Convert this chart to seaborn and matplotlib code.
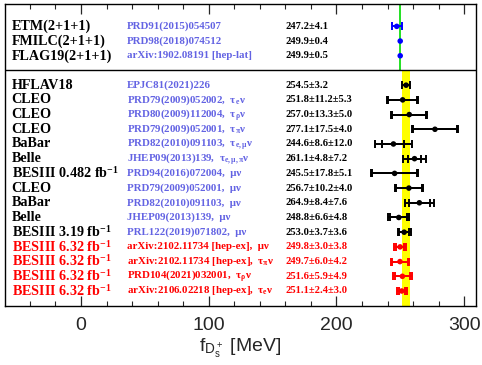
import numpy as np
import pandas as pd
import matplotlib
matplotlib.use("Agg")
import matplotlib.pyplot as plt
import seaborn as sns

# ---------------- data ----------------
FB = r"fb$^{\mathregular{-1}}$"
names = ["ETM(2+1+1)", "FMILC(2+1+1)", "FLAG19(2+1+1)",
         "HFLAV18", "CLEO", "CLEO", "CLEO", "BaBar", "Belle",
         "BESIII 0.482 " + FB, "CLEO", "BaBar", "Belle",
         "BESIII 3.19 " + FB,
         "BESIII 6.32 " + FB, "BESIII 6.32 " + FB,
         "BESIII 6.32 " + FB, "BESIII 6.32 " + FB]
refs = ["PRD91(2015)054507", "PRD98(2018)074512", "arXiv:1902.08191 [hep-lat]",
        "EPJC81(2021)226",
        r"PRD79(2009)052002,  τ$_{\mathregular{e}}$ν",
        r"PRD80(2009)112004,  τ$_{\mathregular{ρ}}$ν",
        r"PRD79(2009)052001,  τ$_{\mathregular{π}}$ν",
        r"PRD82(2010)091103,  τ$_{\mathregular{e,μ}}$ν",
        r"JHEP09(2013)139,  τ$_{\mathregular{e,μ,π}}$ν",
        "PRD94(2016)072004,  μν",
        "PRD79(2009)052001,  μν",
        "PRD82(2010)091103,  μν",
        "JHEP09(2013)139,  μν",
        "PRL122(2019)071802,  μν",
        "arXiv:2102.11734 [hep-ex],  μν",
        r"arXiv:2102.11734 [hep-ex],  τ$_{\mathregular{π}}$ν",
        r"PRD104(2021)032001,  τ$_{\mathregular{ρ}}$ν",
        r"arXiv:2106.02218 [hep-ex],  τ$_{\mathregular{e}}$ν"]
values = [247.2, 249.9, 249.9,
          254.5, 251.8, 257.0, 277.1, 244.6, 261.1, 245.5, 256.7, 264.9, 248.8,
          253.0, 249.8, 249.7, 251.6, 251.1]
stat = [4.1, 0.4, 0.5,
        3.2, 11.2, 13.3, 17.5, 8.6, 4.8, 17.8, 10.2, 8.4, 6.6,
        3.7, 3.0, 6.0, 5.9, 2.4]
syst = [0.0, 0.0, 0.0,
        0.0, 5.3, 5.0, 4.0, 12.0, 7.2, 5.1, 4.0, 7.6, 4.8,
        3.6, 3.8, 4.2, 4.9, 3.0]
rows = [0, 1, 2, 4, 5, 6, 7, 8, 9, 10, 11, 12, 13, 14, 15, 16, 17, 18]
groups = ["lattice"] * 3 + ["exp"] * 11 + ["besiii"] * 4
lattice_avg = 249.9
hflav_avg, hflav_err = 254.5, 3.2

df = pd.DataFrame({"name": names, "ref": refs, "value": values, "stat": stat,
                   "syst": syst, "row": rows, "group": groups})
df["total"] = np.sqrt(df["stat"] ** 2 + df["syst"] ** 2)

point_col = {"lattice": "#0000ff", "exp": "#000000", "besiii": "#ff0000"}
name_col = {"lattice": "#000000", "exp": "#000000", "besiii": "#ff0000"}
ref_col = {"lattice": "#6363e3", "exp": "#6363e3", "besiii": "#ff0000"}
val_col = {"lattice": "#000000", "exp": "#000000", "besiii": "#ff0000"}

# ---------------- style ----------------
sns.set_style("ticks")
plt.rcParams["font.family"] = ["Liberation Serif", "DejaVu Serif"]
plt.rcParams["mathtext.fontset"] = "stix"

fig = plt.figure(figsize=(4.82, 3.65), dpi=100)
ax = fig.add_axes([5 / 482, 1 - 305.7 / 365, 470.7 / 482, 301.4 / 365])

xmin, xmax = -59.5, 309.0
ymin, ymax = -1.5, 19.0

# yellow band (experimental average) and green line (lattice)
ax.fill_betweenx([3, ymax], hflav_avg - hflav_err, hflav_avg + hflav_err,
                 color="#ffff00", lw=0, zorder=1)
ax.plot([lattice_avg, lattice_avg], [ymin, 3], color="#11dd11", lw=1.3, zorder=1)
ax.axhline(3, color="black", lw=1.0, zorder=2)

for g, sub in df.groupby("group"):
    s = sub[sub["total"] > 1]
    ax.errorbar(s["value"], s["row"], xerr=s["total"], fmt="none",
                ecolor=point_col[g], elinewidth=1.4, capsize=3, capthick=1.4, zorder=3)
    s2 = s[s["syst"] > 0]
    ax.errorbar(s2["value"], s2["row"], xerr=s2["stat"], fmt="none",
                ecolor=point_col[g], elinewidth=1.4, capsize=3, capthick=1.4, zorder=3)

sns.scatterplot(data=df, x="value", y="row", hue="group", palette=point_col,
                s=16, edgecolor="none", legend=False, ax=ax, zorder=4)

for _, r in df.iterrows():
    ax.text(-54.3, r["row"], r["name"], fontsize=10.2, fontweight="bold",
            color=name_col[r["group"]], va="center", ha="left")
    ax.text(35.8, r["row"], r["ref"], fontsize=7.8, fontweight="bold",
            color=ref_col[r["group"]], va="center", ha="left")
    if r["syst"] > 0:
        lab = f"{r['value']:.1f}±{r['stat']:.1f}±{r['syst']:.1f}"
    else:
        lab = f"{r['value']:.1f}±{r['stat']:.1f}"
    ax.text(160.4, r["row"], lab, fontsize=7.6, fontweight="bold",
            color=val_col[r["group"]], va="center", ha="left")

ax.set_xlim(xmin, xmax)
ax.set_ylim(ymax, ymin)
ax.set_yticks([])
ax.set_xticks([0, 100, 200, 300])
ax.set_xticks(np.arange(-40, 309, 20), minor=True)
ax.tick_params(axis="x", which="major", direction="in", length=7, width=0.9,
               top=True, bottom=True, pad=8, labelsize=14)
ax.tick_params(axis="x", which="minor", direction="in", length=3.6, width=0.8,
               top=True, bottom=True)
for lab in ax.get_xticklabels():
    lab.set_fontfamily("Liberation Sans")
ax.set_xlabel(r"f$_{\mathregular{D_s^+}}$ [MeV]", fontsize=14, family="Liberation Sans",
              labelpad=2)
ax.set_ylabel("")
for sp in ax.spines.values():
    sp.set_visible(True)
    sp.set_linewidth(1.0)
    sp.set_color("black")

fig.savefig("out.png", dpi=100)
